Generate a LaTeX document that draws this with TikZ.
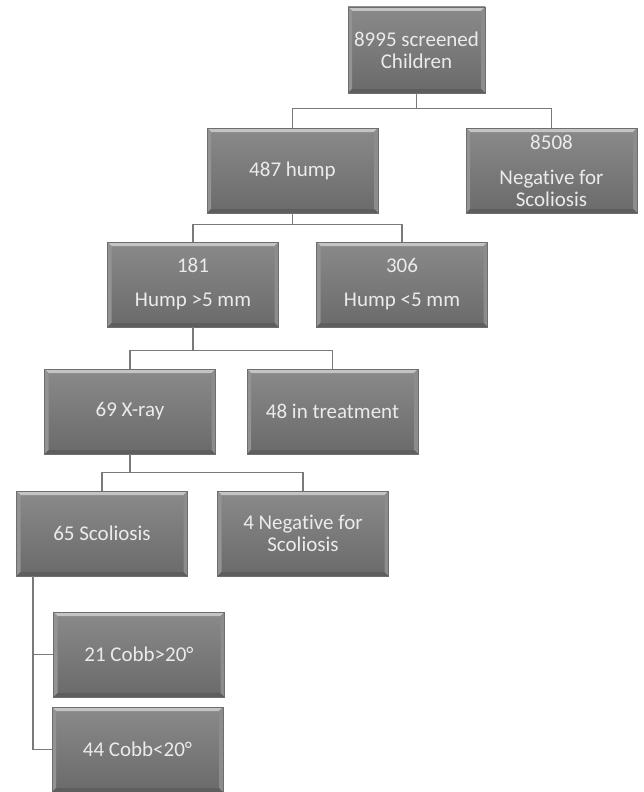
\documentclass[tikz,border=0pt]{standalone}
\usepackage{fontspec}
\setmainfont{Carlito}[Ligatures=NoCommon]
\definecolor{boxtop}{HTML}{8A8A8A}
\definecolor{boxbot}{HTML}{6A6A6A}
\definecolor{bevtop}{HTML}{C4C4C4}
\definecolor{bevleft}{HTML}{939393}
\definecolor{bevright}{HTML}{8C8C8C}
\definecolor{bevbot}{HTML}{5E5E5E}
\definecolor{boxedge}{HTML}{6E6E6E}
\definecolor{boxtext}{HTML}{EBEBEB}
\definecolor{linkcol}{HTML}{7A7A7A}
\tikzset{
  box/.style={minimum width=171pt, minimum height=85pt, inner sep=0pt, align=center,
    text=boxtext, font=\fontsize{21}{22}\selectfont,
    path picture={
      \fill[top color=boxtop, bottom color=boxbot] (path picture bounding box.south west) rectangle (path picture bounding box.north east);
      \fill[bevtop] (path picture bounding box.north west) -- (path picture bounding box.north east)
        -- ([xshift=-4pt,yshift=-4pt]path picture bounding box.north east) -- ([xshift=4pt,yshift=-4pt]path picture bounding box.north west) -- cycle;
      \fill[bevleft] (path picture bounding box.north west) -- ([xshift=4pt,yshift=-4pt]path picture bounding box.north west)
        -- ([xshift=4pt,yshift=4pt]path picture bounding box.south west) -- (path picture bounding box.south west) -- cycle;
      \fill[bevright] (path picture bounding box.north east) -- ([xshift=-4pt,yshift=-4pt]path picture bounding box.north east)
        -- ([xshift=-4pt,yshift=4pt]path picture bounding box.south east) -- (path picture bounding box.south east) -- cycle;
      \fill[bevbot] (path picture bounding box.south west) -- ([xshift=4pt,yshift=4pt]path picture bounding box.south west)
        -- ([xshift=-4pt,yshift=4pt]path picture bounding box.south east) -- (path picture bounding box.south east) -- cycle;
    },
    draw=boxedge, line width=0.8pt},
  link/.style={draw=linkcol, line width=1.3pt}
}
\begin{document}
\begin{tikzpicture}[x=1pt,y=-1pt]
\useasboundingbox (0,0) rectangle (643,792);
\node[box, minimum width=137pt, minimum height=86pt] (root) at (416.5,50) {8995 screened\\Children};
\node[box] (neg) at (551.5,170.5) {8508\\[13pt]Negative for\\Scoliosis};
\node[box] (hump) at (292.5,170.5) {487 hump};
\node[box] (big) at (193,284.5) {181\\[12pt]Hump >5 mm};
\node[box] (small) at (402,284.5) {306\\[12pt]Hump <5 mm};
\node[box] (xray) at (130,411.5) {69 X-ray};
\node[box] (treat) at (332.5,411.5) {48 in treatment};
\node[box] (scol) at (102,533.5) {65 Scoliosis};
\node[box] (neg4) at (303,533.5) {4 Negative for\\Scoliosis};
\node[box] (c21) at (139,654.5) {21 Cobb>20°};
\node[box] (c44) at (137.5,749.5) {44 Cobb<20°};
\draw[link] (root.south) -- ++(0,15) -| (hump.north);
\draw[link] (root.south) ++(0,15) -| (neg.north);
\draw[link] (hump.south) -- ++(0,11) -| (big.north);
\draw[link] (hump.south) ++(0,11) -| (small.north);
\draw[link] (big.south) -- ++(0,23) -| (xray.north);
\draw[link] (big.south) ++(0,23) -| (treat.north);
\draw[link] (xray.south) -- ++(0,18) -| (scol.north);
\draw[link] (xray.south) ++(0,18) -| (neg4.north);
\coordinate (trunk) at ([xshift=-69pt]scol.south);
\draw[link] (trunk) |- (c21.west);
\draw[link] (trunk) |- (c44.west);
\end{tikzpicture}
\end{document}
